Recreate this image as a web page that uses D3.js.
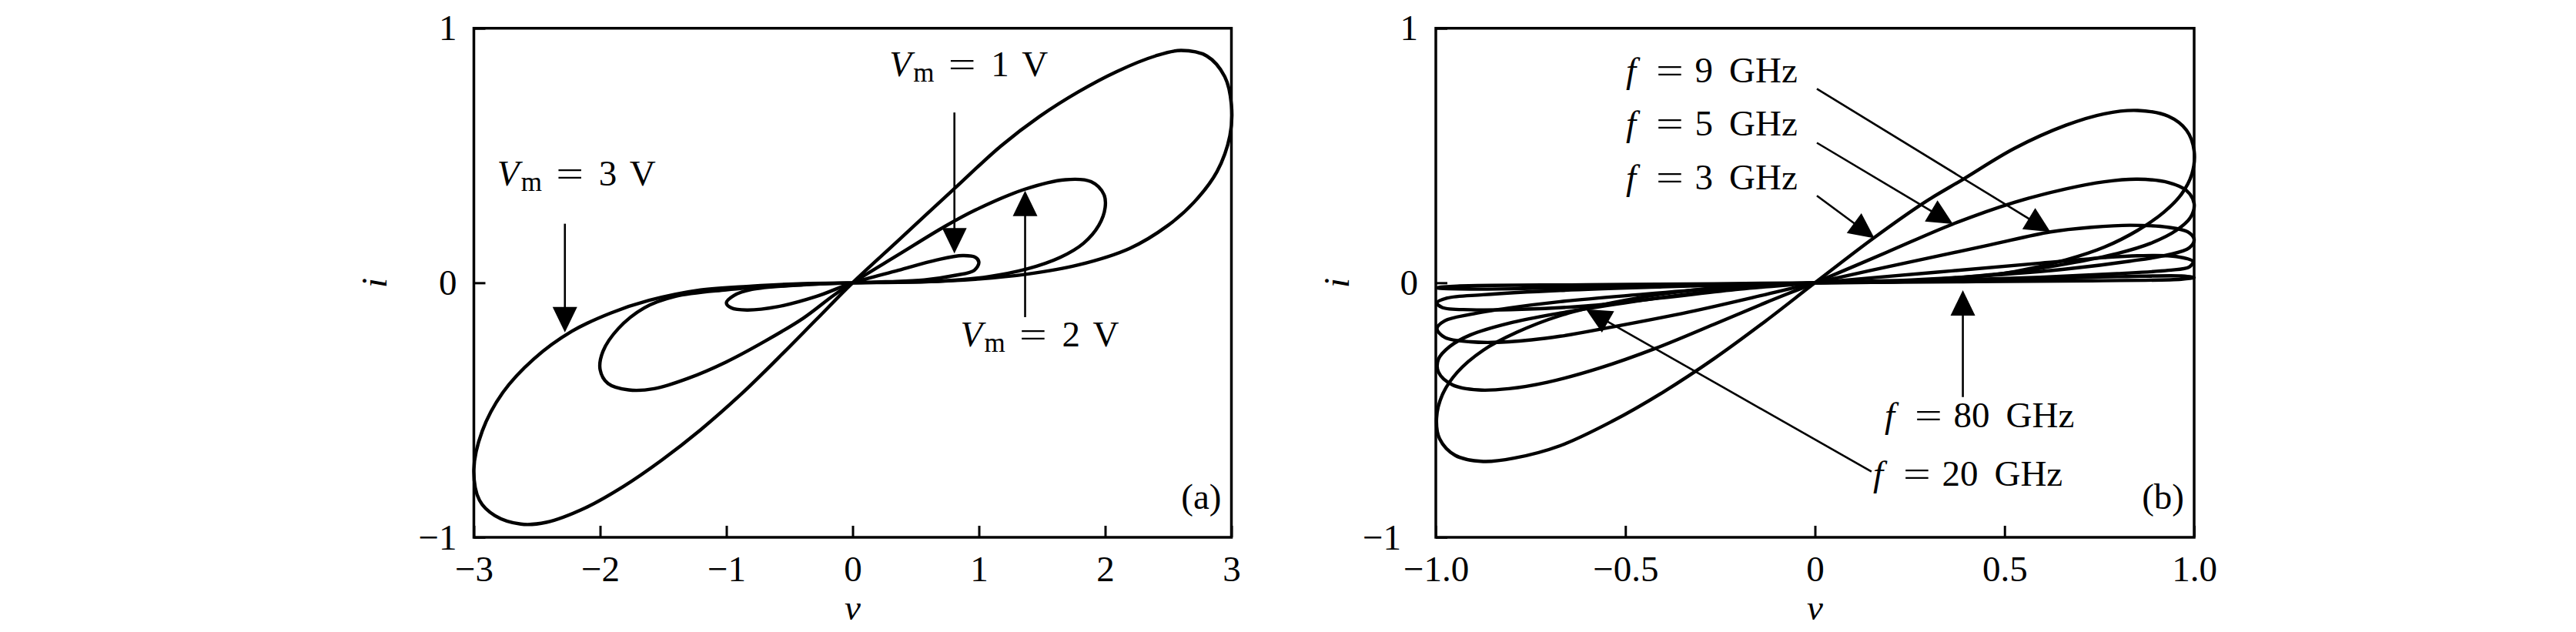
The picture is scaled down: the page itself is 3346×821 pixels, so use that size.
<!DOCTYPE html>
<html><head><meta charset="utf-8">
<script src="https://cdn.jsdelivr.net/npm/d3@7"></script>
<style>
body{margin:0;background:#fff}
svg{display:block}
text{font-family:"Liberation Serif","Times New Roman",serif;fill:#000}
</style>
</head><body>
<svg id="chart" width="3346" height="821"></svg>
<script>
// ---------------- DATA ----------------
// Panel (a): pinched hysteresis loops, [v, i] points around each closed loop
const loopVm3 = [[0,0],[0.362,0.166],[0.810,0.372],[1.176,0.538],[1.482,0.654],[1.787,0.750],[2.092,0.830],[2.397,0.891],[2.601,0.913],[2.805,0.891],[2.947,0.810],[3.0,0.699],[2.988,0.578],[2.886,0.437],[2.703,0.316],[2.499,0.226],[2.194,0.135],[1.787,0.070],[1.380,0.034],[0.973,0.014],[0.566,0.004],
  [0,0],[-0.391,-0.003],[-0.797,-0.013],[-1.205,-0.028],[-1.612,-0.069],[-1.917,-0.119],[-2.222,-0.190],[-2.527,-0.300],[-2.772,-0.432],[-2.934,-0.583],[-3.0,-0.734],[-2.955,-0.855],[-2.833,-0.915],[-2.629,-0.948],[-2.426,-0.941],[-2.120,-0.885],[-1.815,-0.800],[-1.510,-0.696],[-1.205,-0.578],[-0.899,-0.445],[-0.594,-0.298],[-0.289,-0.145]];
const loopVm2 = [[0,0],[0.362,0.110],[0.729,0.221],[0.973,0.286],[1.360,0.367],[1.685,0.405],[1.889,0.397],[1.990,0.347],[2.0,0.296],[1.950,0.226],[1.828,0.155],[1.645,0.100],[1.380,0.054],[1.075,0.024],[0.668,0.006],
  [0,0],[-0.594,-0.013],[-1.001,-0.028],[-1.408,-0.054],[-1.652,-0.099],[-1.856,-0.180],[-1.978,-0.270],[-2.0,-0.341],[-1.937,-0.396],[-1.774,-0.421],[-1.571,-0.416],[-1.306,-0.376],[-1.001,-0.311],[-0.696,-0.230],[-0.391,-0.139],[-0.147,-0.048]];
const loopVm1 = [[0,0],[0.362,0.049],[0.668,0.090],[0.871,0.107],[0.973,0.100],[1.0,0.080],[0.963,0.049],[0.810,0.029],[0.566,0.011],[0.26,0.004],
  [0,0],[-0.391,-0.008],[-0.797,-0.026],[-0.940,-0.050],[-1.0,-0.079],[-0.960,-0.099],[-0.838,-0.107],[-0.594,-0.094],[-0.289,-0.054]];

// Panel (b): loops at different frequencies
const loopF3 = [[0,0],[0.154,0.175],[0.289,0.316],[0.391,0.407],[0.526,0.528],[0.662,0.619],[0.763,0.664],[0.851,0.677],[0.932,0.654],[0.980,0.599],[1.0,0.518],[0.994,0.427],[0.966,0.347],[0.919,0.276],[0.851,0.206],[0.763,0.140],[0.662,0.090],[0.526,0.044],[0.391,0.019],[0.222,0.004],
  [0,0],[-0.130,-0.006],[-0.266,-0.020],[-0.401,-0.044],[-0.536,-0.079],[-0.672,-0.129],[-0.787,-0.195],[-0.875,-0.265],[-0.943,-0.351],[-0.983,-0.441],[-0.998,-0.532],[-0.990,-0.613],[-0.949,-0.678],[-0.875,-0.702],[-0.794,-0.689],[-0.672,-0.640],[-0.536,-0.545],[-0.401,-0.430],[-0.266,-0.298],[-0.130,-0.150]];
const loopF5 = [[0,0],[0.188,0.119],[0.364,0.231],[0.526,0.316],[0.662,0.369],[0.763,0.397],[0.851,0.407],[0.932,0.394],[0.980,0.362],[1.0,0.311],[0.990,0.256],[0.953,0.206],[0.885,0.155],[0.797,0.115],[0.662,0.074],[0.526,0.042],[0.391,0.022],[0.222,0.006],
  [0,0],[-0.164,-0.016],[-0.333,-0.044],[-0.503,-0.079],[-0.672,-0.119],[-0.807,-0.159],[-0.909,-0.205],[-0.963,-0.250],[-0.993,-0.300],[-0.993,-0.351],[-0.956,-0.401],[-0.888,-0.421],[-0.807,-0.416],[-0.706,-0.391],[-0.570,-0.336],[-0.421,-0.258],[-0.266,-0.163],[-0.130,-0.078]];
const loopF9 = [[0,0],[0.255,0.083],[0.459,0.148],[0.621,0.200],[0.729,0.218],[0.831,0.226],[0.932,0.218],[0.983,0.200],[1.0,0.170],[0.987,0.137],[0.932,0.110],[0.831,0.085],[0.662,0.054],[0.459,0.029],[0.255,0.011],
  [0,0],[-0.266,-0.023],[-0.469,-0.047],[-0.672,-0.074],[-0.807,-0.099],[-0.909,-0.124],[-0.976,-0.149],[-0.997,-0.180],[-0.976,-0.215],[-0.909,-0.232],[-0.807,-0.232],[-0.672,-0.210],[-0.536,-0.174],[-0.333,-0.115],[-0.130,-0.046]];
const loopF20 = [[0,0],[0.323,0.042],[0.594,0.077],[0.763,0.099],[0.851,0.106],[0.953,0.103],[0.997,0.083],[0.987,0.062],[0.932,0.049],[0.797,0.036],[0.594,0.022],[0.323,0.008],
  [0,0],[-0.164,-0.006],[-0.401,-0.016],[-0.672,-0.030],[-0.875,-0.047],[-0.970,-0.060],[-0.997,-0.079],[-0.983,-0.097],[-0.909,-0.106],[-0.773,-0.104],[-0.604,-0.091],[-0.401,-0.059],[-0.198,-0.025]];
const loopF80 = [[0,0],[0.459,0.014],[0.797,0.024],[0.966,0.027],[1.0,0.021],[0.966,0.014],[0.729,0.008],[0.391,0.004],
  [0,0],[-0.266,-0.004],[-0.604,-0.008],[-0.943,-0.013],[-0.997,-0.020],[-0.909,-0.025],[-0.672,-0.020],[-0.333,-0.010]];

// Ticks
const ticksAX = [-3,-2,-1,0,1,2,3];
const ticksAXLabels = ["\u22123","\u22122","\u22121","0","1","2","3"];
const ticksBX = [-1,-0.5,0,0.5,1];
const ticksBXLabels = ["\u22121.0","\u22120.5","0","0.5","1.0"];
const ticksY = [-1,0,1];
const ticksYLabels = ["\u22121","0","1"];

// Annotations (data coordinates): label text, arrow tail -> tip, label anchor (left, baseline)
const annotNumsA = ["1","2","3"];
const annotTailA = [[0.806,0.669],[1.366,-0.135],[-2.279,0.232]];
const annotTipA  = [[0.806,0.115],[1.366,0.362],[-2.279,-0.195]];
const annotPosA  = [[0.291,0.812],[0.853,-0.251],[-2.816,0.382]];

const annotNumsB = ["9","5","3","80","20"];
const annotTailB = [[0.005,0.762],[0.005,0.550],[0.005,0.342],[0.390,-0.449],[0.149,-0.742]];
const annotTipB  = [[0.621,0.200],[0.364,0.231],[0.157,0.175],[0.390,-0.029],[-0.604,-0.104]];
const annotPosB  = [[-0.5025,0.786],[-0.5025,0.580],[-0.5025,0.367],[0.1797,-0.5676],[0.1492,-0.7974]];

// ---------------- DRAWING ----------------
const svg = d3.select("#chart");
const FS = 47;
const yScale = d3.scaleLinear().domain([-1,1]).range([698,36.7]);
const xA = d3.scaleLinear().domain([-3,3]).range([615.5,1599.5]);
const xB = d3.scaleLinear().domain([-1,1]).range([1865,2850]);

function panel(x, y, xt, xtl, yLabelDx, tag, ylabX){
  const g = svg.append("g");
  const [x0,x1] = x.range(), [y0,y1] = [y.range()[1], y.range()[0]];
  const ax = g.append("g").attr("transform",`translate(0,${y1})`)
    .call(d3.axisBottom(x).tickValues(xt).tickFormat((d,k)=>xtl[k]).tickSizeInner(-15).tickSizeOuter(0));
  ax.select(".domain").remove();
  ax.selectAll(".tick line").attr("stroke","#000").attr("stroke-width",3);
  ax.selectAll(".tick text").attr("y",57).attr("dy",null).attr("font-size",FS)
    .attr("font-family",'"Liberation Serif",serif').attr("fill","#000");
  const ay = g.append("g").attr("transform",`translate(${x0},0)`)
    .call(d3.axisLeft(y).tickValues(ticksY).tickFormat((d,k)=>ticksYLabels[k]).tickSizeInner(-15).tickSizeOuter(0));
  ay.select(".domain").remove();
  ay.selectAll(".tick line").attr("stroke","#000").attr("stroke-width",3);
  ay.selectAll(".tick text").attr("x",d=>yLabelDx(d)).attr("dy","0.32em").attr("font-size",FS)
    .attr("font-family",'"Liberation Serif",serif').attr("fill","#000");
  g.append("rect").attr("x",x0).attr("y",y0).attr("width",x1-x0).attr("height",y1-y0)
    .attr("fill","none").attr("stroke","#000").attr("stroke-width",3.5);
  g.append("text").attr("x",(x0+x1)/2).attr("y",805).attr("text-anchor","middle")
    .attr("font-size",FS).attr("font-style","italic").text("v");
  g.append("text").attr("transform",`translate(${ylabX},${(y0+y1)/2}) rotate(-90)`)
    .attr("text-anchor","middle").attr("font-size",FS).attr("font-style","italic").text("i");
  g.append("text").attr("x",x1-13).attr("y",y1-37).attr("text-anchor","end")
    .attr("font-size",FS).text(tag);
  return g;
}

const gA = panel(xA, yScale, ticksAX, ticksAXLabels, d=>-22, "(a)", 502);
const gB = panel(xB, yScale, ticksBX, ticksBXLabels, d=> d<0 ? -45 : -23, "(b)", 1752);

function drawLoops(g, x, y, loops){
  const line = d3.line().x(d=>x(d[0])).y(d=>y(d[1])).curve(d3.curveCatmullRomClosed.alpha(0.5));
  g.append("g").selectAll("path").data(loops).join("path")
    .attr("d",line).attr("fill","none").attr("stroke","#000")
    .attr("stroke-width",4.4).attr("stroke-linejoin","round");
}
drawLoops(gA, xA, yScale, [loopVm3, loopVm2, loopVm1]);
drawLoops(gB, xB, yScale, [loopF3, loopF5, loopF9, loopF20, loopF80]);

function arrow(g, x, y, from, to){
  const x1=x(from[0]), y1=y(from[1]), x2=x(to[0]), y2=y(to[1]);
  const dx=x2-x1, dy=y2-y1, L=Math.hypot(dx,dy), ux=dx/L, uy=dy/L;
  const hl=33, hw=16;
  const bx=x2-ux*hl, by=y2-uy*hl;
  g.append("line").attr("x1",x1).attr("y1",y1).attr("x2",bx+ux*3).attr("y2",by+uy*3)
    .attr("stroke","#000").attr("stroke-width",2.6);
  g.append("path").attr("d",`M${x2},${y2}L${bx-uy*hw},${by+ux*hw}L${bx+uy*hw},${by-ux*hw}Z`)
    .attr("fill","#000");
}

function eqSign(t, cx){
  t.append("text").attr("transform",`translate(${cx},0) scale(1.35,1)`)
    .attr("text-anchor","middle").attr("font-size",FS).text("=");
}

function vmLabel(g, x, y, pos, num){
  const t = g.append("g").attr("transform",`translate(${x(pos[0])},${y(pos[1])})`);
  t.append("text").attr("font-size",FS).attr("font-style","italic").text("V");
  t.append("text").attr("x",31).attr("y",7).attr("font-size",35).text("m");
  eqSign(t, 94.5);
  t.append("text").attr("x",132).attr("font-size",FS).text(num);
  t.append("text").attr("x",172).attr("font-size",FS).text("V");
}

function fLabel(g, x, y, pos, num){
  const t = g.append("g").attr("transform",`translate(${x(pos[0])},${y(pos[1])})`);
  t.append("text").attr("x",2).attr("font-size",FS).attr("font-style","italic").text("f");
  eqSign(t, 59);
  const n = t.append("text").attr("x",91.5).attr("font-size",FS).text(num);
  const w = n.node().getComputedTextLength();
  t.append("text").attr("x",91.5+w+21).attr("font-size",FS).text("GHz");
}

annotNumsA.forEach((n,k)=>{
  arrow(gA, xA, yScale, annotTailA[k], annotTipA[k]);
  vmLabel(gA, xA, yScale, annotPosA[k], n);
});
annotNumsB.forEach((n,k)=>{
  arrow(gB, xB, yScale, annotTailB[k], annotTipB[k]);
  fLabel(gB, xB, yScale, annotPosB[k], n);
});
</script>
</body></html>
